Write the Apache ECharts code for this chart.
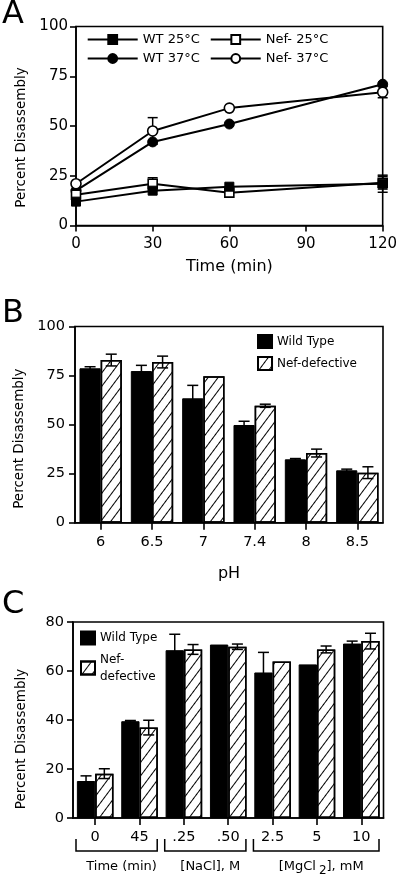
<!DOCTYPE html>
<html><head><meta charset="utf-8">
<script src="https://cdn.jsdelivr.net/npm/echarts@6.0.0/dist/echarts.min.js"></script>
<style>html,body{margin:0;padding:0;background:#fff}#c{width:400px;height:878px}</style>
</head><body><div id="c"></div>
<script>
// ---------- Panel A data ----------
const timeA = [0, 30, 60, 120];
const wt25 = [12.0, 17.5, 19.5, 21.0];
const wt25Err = [0, 0, 0, 4.3];
const nef25 = [15.5, 21.0, 16.5, 21.5];
const nef25Err = [0, 3.0, 0, 3.2];
const wt37 = [17.5, 42.0, 51.0, 71.0];
const wt37Err = [0, 0, 0, 0];
const nef37 = [21.0, 47.5, 59.0, 67.0];
const nef37Err = [0, 6.7, 0, 2.8];
const aXTicks = [0, 30, 60, 90, 120];
const aYTicks = [0, 25, 50, 75, 100];

// ---------- Panel B data ----------
const pHCats = ['6', '6.5', '7', '7.4', '8', '8.5'];
const bWT = [78.7, 77.3, 63.4, 49.8, 32.3, 26.7];
const bWTErr = [0.8, 2.9, 6.6, 1.9, 0.4, 0.6];
const bNef = [82.9, 81.9, 74.6, 59.6, 35.5, 25.5];
const bNefErr = [3.0, 3.0, 0, 0.8, 2.0, 3.0];

// ---------- Panel C data ----------
const cCats = ['0', '45', '.25', '.50', '2.5', '5', '10'];
const cWT = [15.1, 39.5, 68.5, 70.8, 59.4, 62.7, 71.2];
const cWTErr = [2.1, 0.3, 6.5, 0, 8.2, 0, 1.0];
const cNef = [18.1, 36.9, 68.8, 69.9, 63.9, 68.8, 72.2];
const cNefErr = [2.0, 3.0, 2.0, 1.1, 0, 1.4, 3.2];
const cGroupLabels = ['Time (min)', '[NaCl], M', '[MgCl{sub|2}], mM'];
const cGroupFirst = [0, 2, 4];
const cGroupLast = [1, 3, 6];

// ---------- styles ----------
const FONT = 'DejaVu Sans';
const BLACK = '#000';
const BAR_GAP = 0.175;
const LW = 1.6;

const chart = echarts.init(document.getElementById('c'), null, {renderer: 'canvas'});

function yAxisCfg(gi, max, interval, fs, margin, nameGap, padRight) {
  return {
    type: 'value', gridIndex: gi, min: 0, max: max, interval: interval,
    axisLine: {show: true, lineStyle: {color: BLACK, width: LW}},
    axisTick: {show: true, length: 6, lineStyle: {color: BLACK, width: LW}},
    axisLabel: {color: BLACK, fontSize: fs, fontFamily: FONT, margin: margin},
    splitLine: {show: false},
    name: 'Percent Disassembly', nameLocation: 'middle', nameGap: nameGap,
    nameTextStyle: {color: BLACK, fontSize: 13.5, fontFamily: FONT, padding: [0, padRight, 0, 0]}
  };
}
function catAxisCfg(gi, cats, fs, margin, name, nameGap) {
  return {
    type: 'category', gridIndex: gi, data: cats, boundaryGap: true,
    axisLine: {show: true, lineStyle: {color: BLACK, width: LW}},
    axisTick: {show: true, alignWithLabel: true, length: 7, lineStyle: {color: BLACK, width: LW}},
    axisLabel: {color: BLACK, fontSize: fs, fontFamily: FONT, margin: margin},
    splitLine: {show: false},
    name: name, nameLocation: 'middle', nameGap: nameGap,
    nameTextStyle: {color: BLACK, fontSize: 16, fontFamily: FONT}
  };
}
function drawErr(x, top, bot, hw) {
  const st = {stroke: BLACK, lineWidth: 1.5};
  return {type: 'group', children: [
    {type: 'line', shape: {x1: x, y1: top, x2: x, y2: bot}, style: st},
    {type: 'line', shape: {x1: x - hw, y1: top, x2: x + hw, y2: top}, style: st},
    {type: 'line', shape: {x1: x - hw, y1: bot, x2: x + hw, y2: bot}, style: st}
  ]};
}
function barErrSeries(gi, vals, errs, side) {
  return {
    type: 'custom', xAxisIndex: gi, yAxisIndex: gi, z: 5, silent: true,
    encode: {x: 0, y: 1},
    data: vals.map((v, i) => [i, v, errs[i]]),
    renderItem: function (params, api) {
      const e = api.value(2);
      if (!e) return null;
      const i = api.value(0), v = api.value(1);
      const band = api.size([1, 0])[0];
      const bw = band * (1 - BAR_GAP) / 2;
      const c = api.coord([i, v]);
      const x = c[0] + side * bw / 2;
      return drawErr(x, api.coord([i, v + e])[1], api.coord([i, v - e])[1], 5.5);
    }
  };
}
function lineErrSeries(vals, errs) {
  return {
    type: 'custom', xAxisIndex: 0, yAxisIndex: 0, z: 1, silent: true,
    encode: {x: 0, y: 1},
    data: vals.map((v, i) => [timeA[i], v, errs[i]]),
    renderItem: function (params, api) {
      const e = api.value(2);
      if (!e) return null;
      const t = api.value(0), v = api.value(1);
      const c = api.coord([t, v]);
      return drawErr(c[0], api.coord([t, v + e])[1], api.coord([t, v - e])[1], 5);
    }
  };
}
function lineSeries(name, vals, symbol, filled, size) {
  return {
    type: 'line', name: name, xAxisIndex: 0, yAxisIndex: 0, z: 2,
    data: vals.map((v, i) => [timeA[i], v]),
    symbol: symbol, symbolSize: size, showSymbol: true,
    lineStyle: {color: BLACK, width: 2},
    itemStyle: filled ? {color: BLACK, borderColor: BLACK, borderWidth: 1}
                      : {color: '#fff', borderColor: BLACK, borderWidth: 1.6},
    emphasis: {disabled: true}
  };
}
const hatch = {
  symbol: 'rect', symbolSize: 1, color: BLACK, backgroundColor: null,
  dashArrayX: [1, 0], dashArrayY: [1, 7], rotation: -0.93
};
function barSeries(gi, name, vals, isWT) {
  return {
    type: 'bar', name: name, xAxisIndex: gi, yAxisIndex: gi, z: 2,
    data: vals, barGap: '0%', barCategoryGap: (BAR_GAP * 100) + '%',
    itemStyle: isWT ? {color: BLACK, borderColor: BLACK, borderWidth: 1}
                    : {color: '#fff', borderColor: BLACK, borderWidth: 1.5, decal: hatch},
    emphasis: {disabled: true}
  };
}
const legendText = {fontSize: 13, fontFamily: FONT, color: BLACK, lineHeight: 14};

const option = {
  animation: false,
  backgroundColor: '#fff',
  grid: [
    {left: 76, top: 26.5, width: 309, height: 199, show: true, borderColor: BLACK, borderWidth: LW, backgroundColor: 'transparent'},
    {left: 75, top: 326.5, width: 308, height: 196.2, show: true, borderColor: BLACK, borderWidth: LW, backgroundColor: 'transparent'},
    {left: 73, top: 622, width: 310.5, height: 196, show: true, borderColor: BLACK, borderWidth: LW, backgroundColor: 'transparent'}
  ],
  xAxis: [
    {
      type: 'value', gridIndex: 0, min: aXTicks[0], max: aXTicks[aXTicks.length - 1], interval: aXTicks[1] - aXTicks[0],
      axisLine: {show: true, lineStyle: {color: BLACK, width: LW}},
      axisTick: {show: true, length: 6, lineStyle: {color: BLACK, width: LW}},
      axisLabel: {color: BLACK, fontSize: 15, fontFamily: FONT, margin: 11},
      splitLine: {show: false},
      name: 'Time (min)', nameLocation: 'middle', nameGap: 33.5,
      nameTextStyle: {color: BLACK, fontSize: 16, fontFamily: FONT}
    },
    catAxisCfg(1, pHCats, 14.5, 12, 'pH', 43.5),
    Object.assign(catAxisCfg(2, cCats, 14.5, 12, '', 0), {name: ''})
  ],
  yAxis: [
    Object.assign(yAxisCfg(0, aYTicks[aYTicks.length - 1], aYTicks[1] - aYTicks[0], 15, 8, 42.5, 23)),
    yAxisCfg(1, 100, 25, 14.5, 10, 43, 28),
    yAxisCfg(2, 80, 20, 14.5, 9, 44.5, 38)
  ],
  legend: [
    {data: ['WT 25°C', 'Nef- 25°C'], left: 86.7, top: 32.5, padding: 0, itemWidth: 50, itemHeight: 11, itemGap: 10, selectedMode: false, textStyle: legendText},
    {data: ['WT 37°C', 'Nef- 37°C'], left: 86.7, top: 51.5, padding: 0, itemWidth: 50, itemHeight: 11, itemGap: 10, selectedMode: false, textStyle: legendText},
    {data: ['Wild Type', 'Nef-defective'], orient: 'vertical', right: 43, top: 334, padding: 0, icon: 'rect', itemWidth: 14, itemHeight: 13, itemGap: 7, selectedMode: false,
     textStyle: {fontSize: 12, fontFamily: FONT, color: BLACK, lineHeight: 14}},
    {data: ['Wild Type', 'Nef-defective'], orient: 'vertical', left: 80, top: 629.5, padding: 0, icon: 'rect', itemWidth: 14, itemHeight: 13, itemGap: 4.5, selectedMode: false,
     formatter: function (n) { return n === 'Nef-defective' ? 'Nef-\ndefective' : n; },
     textStyle: {fontSize: 12, fontFamily: FONT, color: BLACK, lineHeight: 17}}
  ],
  series: [
    lineErrSeries(wt25, wt25Err),
    lineErrSeries(nef25, nef25Err),
    lineErrSeries(wt37, wt37Err),
    lineErrSeries(nef37, nef37Err),
    lineSeries('WT 37°C', wt37, 'circle', true, 10),
    lineSeries('Nef- 37°C', nef37, 'circle', false, 10),
    lineSeries('Nef- 25°C', nef25, 'rect', false, 9),
    lineSeries('WT 25°C', wt25, 'rect', true, 9),
    barSeries(1, 'Wild Type', bWT, true),
    barSeries(1, 'Nef-defective', bNef, false),
    barErrSeries(1, bWT, bWTErr, -1),
    barErrSeries(1, bNef, bNefErr, 1),
    barSeries(2, 'Wild Type', cWT, true),
    barSeries(2, 'Nef-defective', cNef, false),
    barErrSeries(2, cWT, cWTErr, -1),
    barErrSeries(2, cNef, cNefErr, 1)
  ]
};
chart.setOption(option);

// ---------- panel letters, group brackets for C (positions from the axes) ----------
function buildGraphics() {
  const els = [];
  const letters = [['A', 15], ['B', 314], ['C', 605]];
  letters.forEach(function (l) {
    els.push({type: 'text', x: 2, y: l[1], style: {text: l[0], fontSize: 32, fontFamily: FONT, fill: BLACK, align: 'left', verticalAlign: 'middle'}});
  });
  const px0 = chart.convertToPixel({xAxisIndex: 2}, 0);
  const px1 = chart.convertToPixel({xAxisIndex: 2}, 1);
  const band = px1 - px0;
  const y0 = chart.convertToPixel({yAxisIndex: 2}, 0);
  for (let k = 0; k < cGroupLabels.length; k++) {
    const xl = chart.convertToPixel({xAxisIndex: 2}, cGroupFirst[k]) - band / 2 + 3;
    const xr = chart.convertToPixel({xAxisIndex: 2}, cGroupLast[k]) + band / 2 - 4.5;
    els.push({type: 'polyline', shape: {points: [[xl, y0 + 21], [xl, y0 + 33], [xr, y0 + 33], [xr, y0 + 21]]},
      style: {stroke: BLACK, lineWidth: 1.5, fill: null}});
    els.push({type: 'text', x: (xl + xr) / 2 + 5, y: y0 + 48.7,
      style: {text: cGroupLabels[k], fontSize: 13, fontFamily: FONT, fill: BLACK, align: 'center', verticalAlign: 'middle',
        rich: {sub: {fontSize: 12, fontFamily: FONT, fill: BLACK, padding: [9, 0, 0, 3]}}}});
  }
  return els;
}
chart.setOption({graphic: {elements: buildGraphics()}});
</script></body></html>
